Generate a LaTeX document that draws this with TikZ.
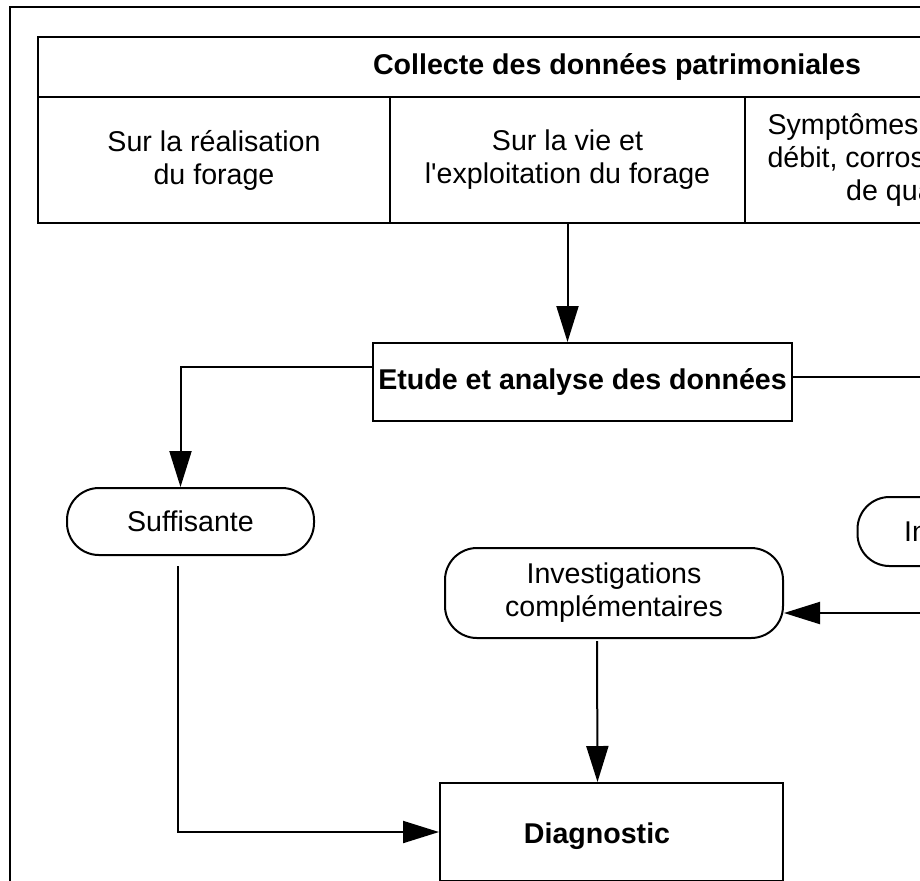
\documentclass[tikz,border=0pt]{standalone}
\usepackage{fontspec}
\setmainfont{Liberation Sans}
\usetikzlibrary{arrows.meta,positioning,calc}
\newcommand{\diagfont}{\fontsize{14.3}{16.5}\selectfont}
\tikzset{
  cell/.style={rectangle, draw=black, line width=1pt, align=center, minimum height=63pt, inner sep=2pt},
  stage/.style={rectangle, draw=black, line width=1pt, align=center, inner sep=1pt, font=\diagfont\bfseries},
  outcome/.style={rectangle, rounded corners=16pt, draw=black, line width=1pt, align=center},
  flow/.style={line width=1pt, -{Triangle[length=18pt,width=11pt]}},
}

\begin{document}
\begin{tikzpicture}[x=0.5pt,y=-0.5pt,font=\diagfont]
  \useasboundingbox (0,0) rectangle (920,880);
  \clip (0,0) rectangle (920,880);
  \draw[line width=1.4pt] (10,7) rectangle (1400,1400);
  % collected data
  \node[cell,font=\diagfont\bfseries,minimum width=579pt,minimum height=30pt] (head) at (617,67) {Collecte des données patrimoniales};
  \node[cell,minimum width=176pt] (realis) at (214,160) {Sur la réalisation\\du forage};
  \node[cell,minimum width=177.5pt] (vie) at (567.5,160) {Sur la vie et\\l\textquotesingle exploitation du forage};
  \node[cell,minimum width=168pt] (sympt) at (913,160) {Symptômes (baisse de\\débit, corrosion, pertes\\de qualité)};
  % analysis and outcomes
  \node[stage,minimum width=209.5pt,minimum height=39pt] (etude) at (582.5,382) {Etude et analyse des données};
  \node[outcome,minimum width=123.5pt,minimum height=33.5pt] (suff) at (190.5,521.5) {Suffisante};
  \node[outcome,minimum width=119.5pt,minimum height=34.5pt] (insuf) at (977,531.5) {Insuffisante};
  \node[outcome,minimum width=169pt,minimum height=45pt] (invest) at (614,593) {Investigations\\complémentaires};
  \node[stage,minimum width=171.5pt,minimum height=49pt] (diag) at (611.5,832) {};
  \node[font=\diagfont\bfseries,inner sep=0pt] (diaglbl) at (597,836) {Diagnostic};
  % connectors
  \draw[flow] (vie.south) -- (vie.south |- etude.north);
  \draw[flow] ([yshift=7.5pt]etude.west) -| ([xshift=-5pt]suff.north);
  \draw[flow] ([yshift=2.5pt]etude.east) -| (insuf.north);
  \draw[flow] (insuf.south) |- ([yshift=-10pt]invest.east);
  \draw[flow] ([xshift=-6.5pt,yshift=-5pt]suff.south) |- (diag.west);
  \draw[flow] ([xshift=-8.5pt,yshift=-1pt]invest.south) -- ([xshift=-7pt]diag.north);
\end{tikzpicture}
\end{document}
